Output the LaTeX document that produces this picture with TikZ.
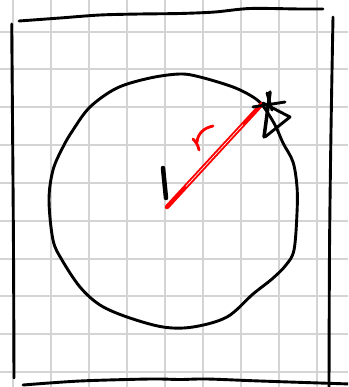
\documentclass[tikz,border=0pt]{standalone}
\usetikzlibrary{calc}
\begin{document}
\begin{tikzpicture}[x=1pt,y=-1pt,
  gridline/.style={draw={rgb,255:red,212;green,212;blue,212},line width=2pt},
  ink/.style={draw=black,line width=2.9pt,line cap=round,line join=round},
  redink/.style={draw=red,line width=2.8pt,line cap=round,line join=round}]
\useasboundingbox (0,0) rectangle (348,387);
\clip (0,0) rectangle (348,387);
\fill[white] (0,0) rectangle (348,387);
% grid
\foreach \i in {0,...,8} {\draw[gridline] (12.7+38*\i,0) -- (12.7+38*\i,387);}
\foreach \j in {-1,...,9} {\draw[gridline] (0,31.7+37.8*\j) -- (348,31.7+37.8*\j);}
% frame
\draw[ink] plot[smooth] coordinates {(19,21) (60,18) (100,15) (140,14) (180,13.5) (215,12) (250,8.5) (300,9) (323,9)};
\draw[ink] plot[smooth] coordinates {(11.7,24) (12.5,120) (13.5,250) (14,378)};
\draw[ink] plot[smooth] coordinates {(333,17) (331,130) (329.5,250) (329,390)};
\draw[ink] plot[smooth] coordinates {(23,385) (80,381) (150,379) (180,379.5) (207,379) (260,381) (350,384)};
% circle
\draw[ink] plot[smooth cycle,tension=0.55] coordinates {(180,74) (200,77) (233,87) (253,97) (263,106) (275,125) (283,143) (293,162) (297,187) (297,213) (294,250) (286,265) (272,279) (253,294) (227,317) (193,327) (163,327) (127,317) (100,305) (80,287) (62,260) (53,240) (49,200) (53,170) (63,147) (73,130) (90,107) (117,88) (150,78)};
% center tick
\coordinate (c) at (167,207);
\coordinate (e) at (262,104);
\draw[ink,line width=4.5pt] (163,168) -- (166,198);
% radius
\draw[redink,line width=4.5pt] (c) -- (e);
\draw[white,line width=0.6pt] ($(c)!0.2!(e)$) -- ($(c)!0.8!(e)$);
% arrowhead sketch
\draw[ink] (253,107) -- (285,102);
\draw[ink,line width=3.5pt] (270,92) -- (264,137);
\draw[ink] (263,103) -- (290,117) -- (265,137);
\draw[ink] (267,93) -- (272,110);
% r label
\draw[redink,line width=2.8pt] (193,139) .. controls (196,142) and (198,145) .. (199,150);
\draw[redink,line width=2.8pt] (197,142) .. controls (198,133) and (204,128) .. (213,126);
\end{tikzpicture}
\end{document}
